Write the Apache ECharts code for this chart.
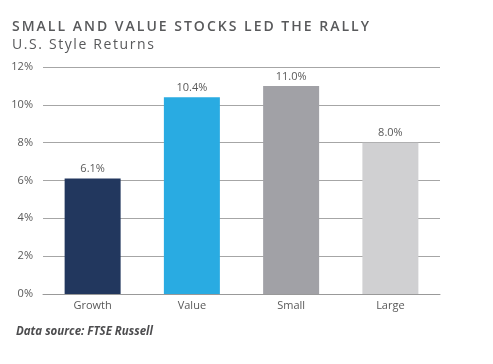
<!DOCTYPE html>
<html><head><meta charset="utf-8">
<script src="https://cdn.jsdelivr.net/npm/echarts@6/dist/echarts.min.js"></script>
<style>html,body{margin:0;padding:0;background:#fff}#c{width:493px;height:364px}</style>
</head><body><div id="c"></div>
<script>
const categories = ['Growth', 'Value', 'Small', 'Large'];
const returns = [6.1, 10.4, 11.0, 8.0];
const barColors = ['#22375e', '#29abe2', '#a1a1a6', '#d0d0d2'];
const yTicks = [0, 2, 4, 6, 8, 10, 12];
const titleText = 'SMALL AND VALUE STOCKS LED THE RALLY';
const subtitleText = 'U.S. Style Returns';
const sourceText = 'Data source: FTSE Russell';

// emulate letter spacing with per-character rich tokens
function spaced(str, key) {
  return str.split('').map(ch => '{' + key + '|' + ch + '}').join('');
}

const chart = echarts.init(document.getElementById('c'), null, {renderer: 'canvas'});
chart.setOption({
  animation: false,
  backgroundColor: '#fff',
  graphic: [
    {type: 'text', left: 12, top: 20, style: {
      text: spaced(titleText, 't'),
      rich: {t: {fontFamily: 'Open Sans', fontWeight: 600, fontSize: 14, fill: '#58595b', padding: [0, 2.0, 0, 0]}}
    }},
    {type: 'text', left: 12, top: 38, style: {
      text: spaced(subtitleText, 's'),
      rich: {s: {fontFamily: 'Open Sans', fontWeight: 'normal', fontSize: 14, fill: '#58595b', padding: [0, 1.6, 0, 0]}}
    }}
  ],
  title: [
    {text: sourceText, left: 11, top: 321,
     textStyle: {fontFamily: 'Open Sans', fontWeight: 'bold', fontStyle: 'italic', fontSize: 11.5, color: '#4d4d4f'}}
  ],
  grid: {left: 43, right: 53, top: 67, bottom: 70, containLabel: false},
  xAxis: {
    type: 'category', data: categories,
    axisLine: {lineStyle: {color: '#999', width: 1}},
    axisTick: {show: false},
    axisLabel: {fontFamily: 'Open Sans', fontSize: 11, color: '#595959', margin: 6}
  },
  yAxis: {
    type: 'value', min: yTicks[0], max: yTicks[yTicks.length - 1], interval: 2,
    axisLine: {show: false}, axisTick: {show: false},
    axisLabel: {fontFamily: 'Open Sans', fontSize: 11, color: '#595959', margin: 10,
                formatter: v => v + '%'},
    splitLine: {lineStyle: {color: '#a6a6a6', width: 1}}
  },
  series: [{
    type: 'bar', barWidth: 56,
    data: returns.map((v, i) => ({value: v, itemStyle: {color: barColors[i]}})),
    label: {show: true, position: 'top', distance: 4, fontFamily: 'Open Sans', fontSize: 11,
            color: '#595959', formatter: p => p.value.toFixed(1) + '%'}
  }]
});
</script></body></html>
